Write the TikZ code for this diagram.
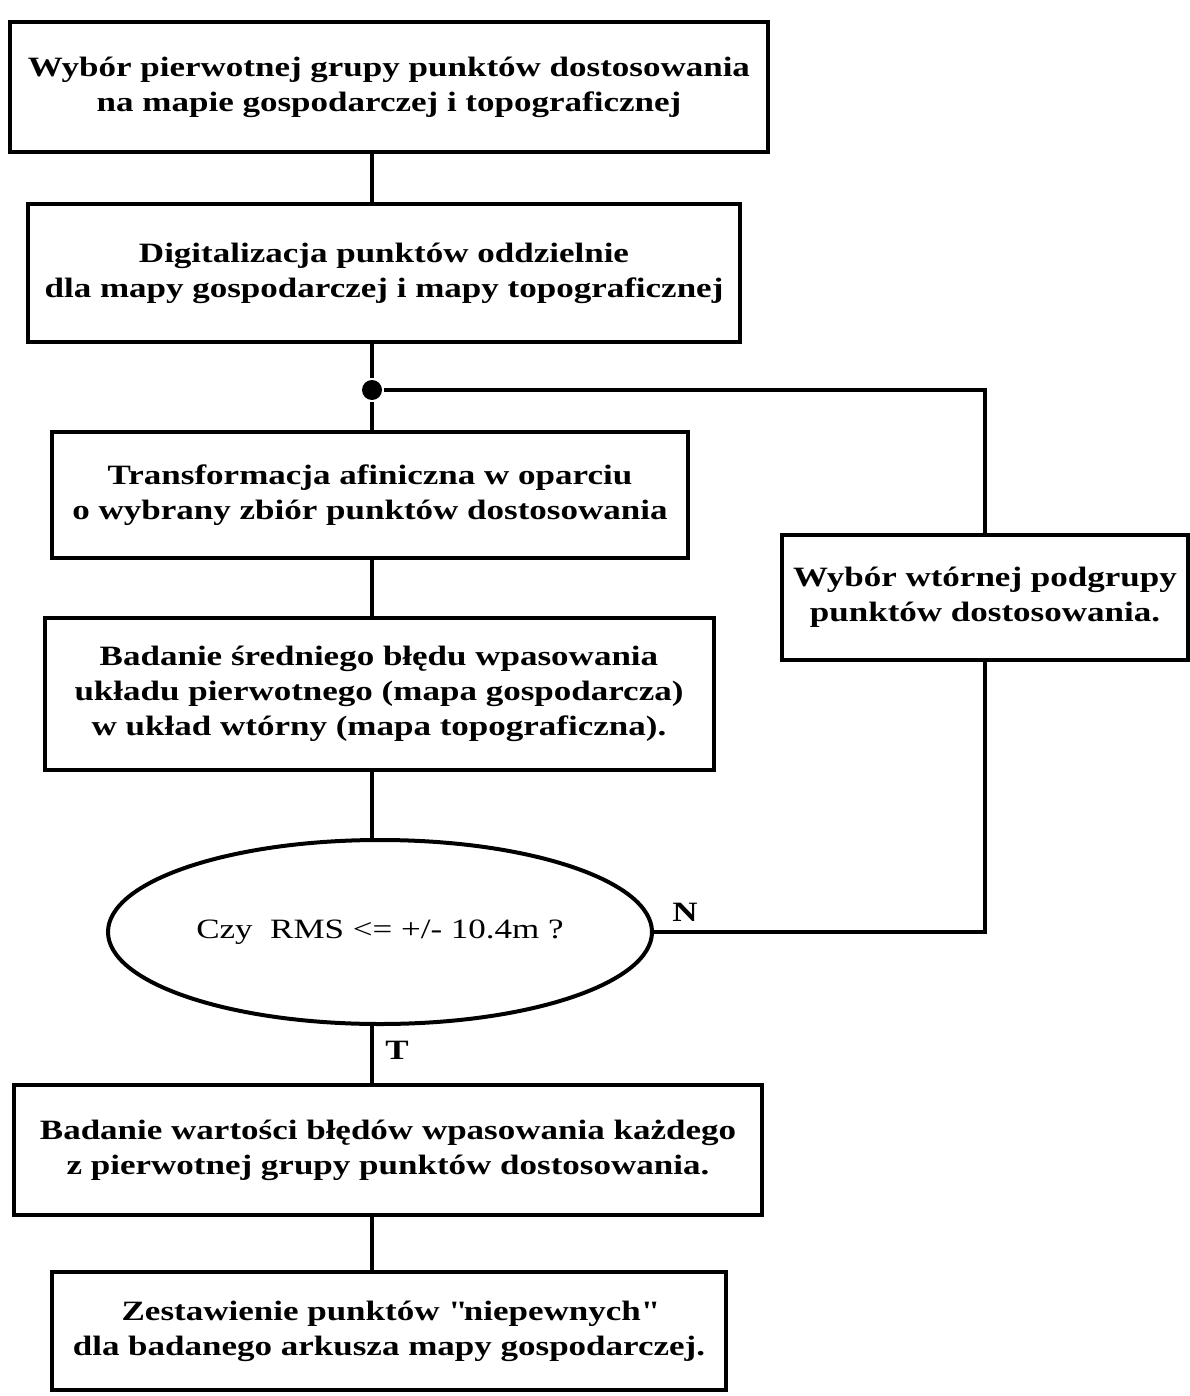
\documentclass[tikz,border=0pt]{standalone}
\usepackage{fontspec}
\setmainfont{Liberation Serif}[FakeStretch=1.25]
\usetikzlibrary{shapes.geometric}
\begin{document}
\begin{tikzpicture}
   [x=1pt,y=-1pt,line width=4pt,
    box/.style={draw, rectangle, inner sep = 0pt, align = center, font=\fontsize{28}{35}\selectfont\bfseries},
    decision/.style={draw, ellipse, inner sep = 0pt, minimum width = 544pt, minimum height = 184pt, font=\fontsize{28}{35}\selectfont},
    lbl/.style={inner sep = 0pt, font=\fontsize{28}{35}\selectfont\bfseries}]
  \useasboundingbox (0,0) rectangle (1190,1396);
  \coordinate (spine) at (372,0);
  \node[box, minimum width = 758pt, minimum height = 130pt] (wybor) at (389,87) {Wybór pierwotnej grupy punktów dostosowania\\ na mapie gospodarczej i topograficznej};
  \node[box, minimum width = 712pt, minimum height = 137pt] (digit) at (384,273) {Digitalizacja punktów oddzielnie\\ dla mapy gospodarczej i mapy topograficznej};
  \node[circle, fill, inner sep = 0pt, minimum size = 20pt] (dot) at (372,390) {};
  \node[box, minimum width = 636pt, minimum height = 126pt] (trans) at (370,495) {Transformacja afiniczna w oparciu\\ o wybrany zbiór punktów dostosowania};
  \node[box, minimum width = 406pt, minimum height = 125pt] (wtorny) at (985,597) {Wybór wtórnej podgrupy\\ punktów dostosowania.};
  \node[box, minimum width = 669pt, minimum height = 152pt] (badanie) at (379,694) {Badanie średniego błędu wpasowania\\ układu pierwotnego (mapa gospodarcza)\\ w układ wtórny (mapa topograficzna).};
  \node[decision] (rms) at (380,932) {Czy\ \ RMS <= +/- 10.4m ?};
  \node[box, minimum width = 748pt, minimum height = 130pt] (wartosci) at (388,1150) {Badanie wartości błędów wpasowania każdego\\ z pierwotnej grupy punktów dostosowania.};
  \node[box, minimum width = 674pt, minimum height = 118pt] (zestaw) at (389,1331) {Zestawienie punktów \textquotedbl niepewnych\textquotedbl\\ dla badanego arkusza mapy gospodarczej.};
  \node[lbl] (nie) at (685,912) {N};
  \node[lbl] (tak) at (397,1050) {T};

  \foreach \from/\to in {wybor/digit, digit/dot, dot/trans, trans/badanie, badanie/rms, rms/wartosci, wartosci/zestaw}
    \draw (\from.south -| spine) -- (\to.north -| spine);
  \draw (dot.east) -| (wtorny.north);
  \draw (rms.east) -| (wtorny.south);
\end{tikzpicture}
\end{document}
